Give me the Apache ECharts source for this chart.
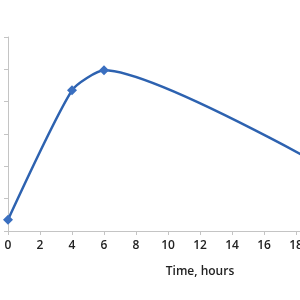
<!DOCTYPE html>
<html>
<head>
<meta charset="utf-8">
<script src="https://cdn.jsdelivr.net/npm/echarts@6/dist/echarts.min.js"></script>
<style>
  html, body { margin: 0; padding: 0; background: #fff; }
  #chart { width: 300px; height: 300px; }
</style>
</head>
<body>
<div id="chart"></div>
<script>
const hours = [0, 4, 6, 24];
const level = [0.35, 4.35, 4.97, 0.8];
const xTitle = 'Time, hours';

const chart = echarts.init(document.getElementById('chart'));
chart.setOption({
  animation: false,
  grid: { left: 8, top: 37, width: 384, height: 194, outerBoundsMode: 'none', containLabel: false },
  xAxis: {
    type: 'value', min: 0, max: 24, interval: 2,
    name: xTitle, nameLocation: 'middle', nameGap: 35,
    nameTextStyle: { color: '#222', fontSize: 12, fontWeight: 600, fontFamily: 'Open Sans' },
    axisLine: { lineStyle: { color: '#c4c4c4', width: 1 } },
    axisTick: { show: true, length: 4, lineStyle: { color: '#c4c4c4' } },
    axisLabel: { color: '#222', fontSize: 12, fontWeight: 600, fontFamily: 'Open Sans', margin: 9 },
    splitLine: { show: false }
  },
  yAxis: {
    type: 'value', min: 0, max: 6, interval: 1,
    axisLine: { show: true, lineStyle: { color: '#c4c4c4', width: 1 } },
    axisTick: { show: true, length: 4, lineStyle: { color: '#c4c4c4' } },
    axisLabel: { show: false },
    splitLine: { show: false }
  },
  series: [{
    type: 'line',
    data: hours.map((h, i) => [h, level[i]]),
    smooth: 0.2,
    symbol: 'diamond', symbolSize: 10,
    lineStyle: { color: '#2d62b0', width: 2.5 },
    itemStyle: { color: '#3a6fc0' },
    clip: false
  }]
});
</script>
</body>
</html>
